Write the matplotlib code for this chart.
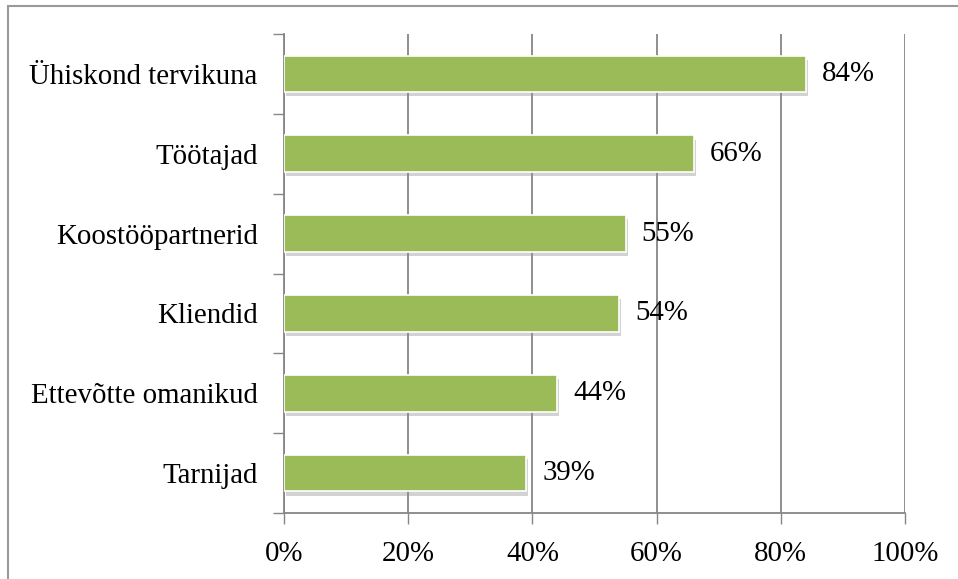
import numpy as np
import matplotlib.pyplot as plt
import matplotlib.patheffects as pe
from matplotlib.patches import Rectangle

categories = ["Tarnijad", "Ettevõtte omanikud", "Kliendid",
              "Koostööpartnerid", "Töötajad", "Ühiskond tervikuna"]
values = [39, 44, 54, 55, 66, 84]
xticks = [0, 20, 40, 60, 80, 100]

plt.rcParams['font.family'] = ['Liberation Serif', 'DejaVu Serif']
grey = "#868686"
fs = 20.8

fig = plt.figure(figsize=(9.58, 5.79), dpi=100)
ax = fig.add_axes([284/958, 1-513/579, (905-284)/958, (513-34)/579])

y = np.arange(len(categories))
bars = ax.barh(y, values, height=0.46, color="#9BBB59", edgecolor="white",
               linewidth=1.2, zorder=3)
for b in bars:
    b.set_path_effects([pe.SimplePatchShadow(offset=(1.5, -3), shadow_rgbFace="#909090", alpha=0.4),
                        pe.Normal()])

for yi, v in zip(y, values):
    ax.text(v + 2.6, yi, f"{v}%", va="center", ha="left", fontsize=fs, zorder=4)

ax.set_xlim(0, 100)
ax.set_ylim(-0.5, len(categories) - 0.5)
ax.set_xticks(xticks)
ax.set_xticklabels([f"{t}%" for t in xticks], fontsize=fs)
ax.tick_params(axis="x", length=8, width=1, color=grey, pad=12)

ax.set_yticks(y)
ax.set_yticklabels(categories, fontsize=fs)
ax.tick_params(axis="y", which="major", length=0, pad=19)
ax.set_yticks(np.arange(len(categories) + 1) - 0.5, minor=True)
ax.tick_params(axis="y", which="minor", length=8, width=1, color=grey)

ax.grid(axis="x", color=grey, linewidth=1.3, zorder=0)
ax.set_axisbelow(True)
for s in ["top", "right"]:
    ax.spines[s].set_visible(False)
for s in ["left", "bottom"]:
    ax.spines[s].set_color(grey)
    ax.spines[s].set_linewidth(1.3)

# outer frame (partially cut off at right and bottom)
fig.patches.append(Rectangle((8/958, -0.1), 1.2, 1.1 - 6/579, transform=fig.transFigure,
                             fill=False, edgecolor="#999999", linewidth=1.5))

fig.savefig("out.png", dpi=100)
